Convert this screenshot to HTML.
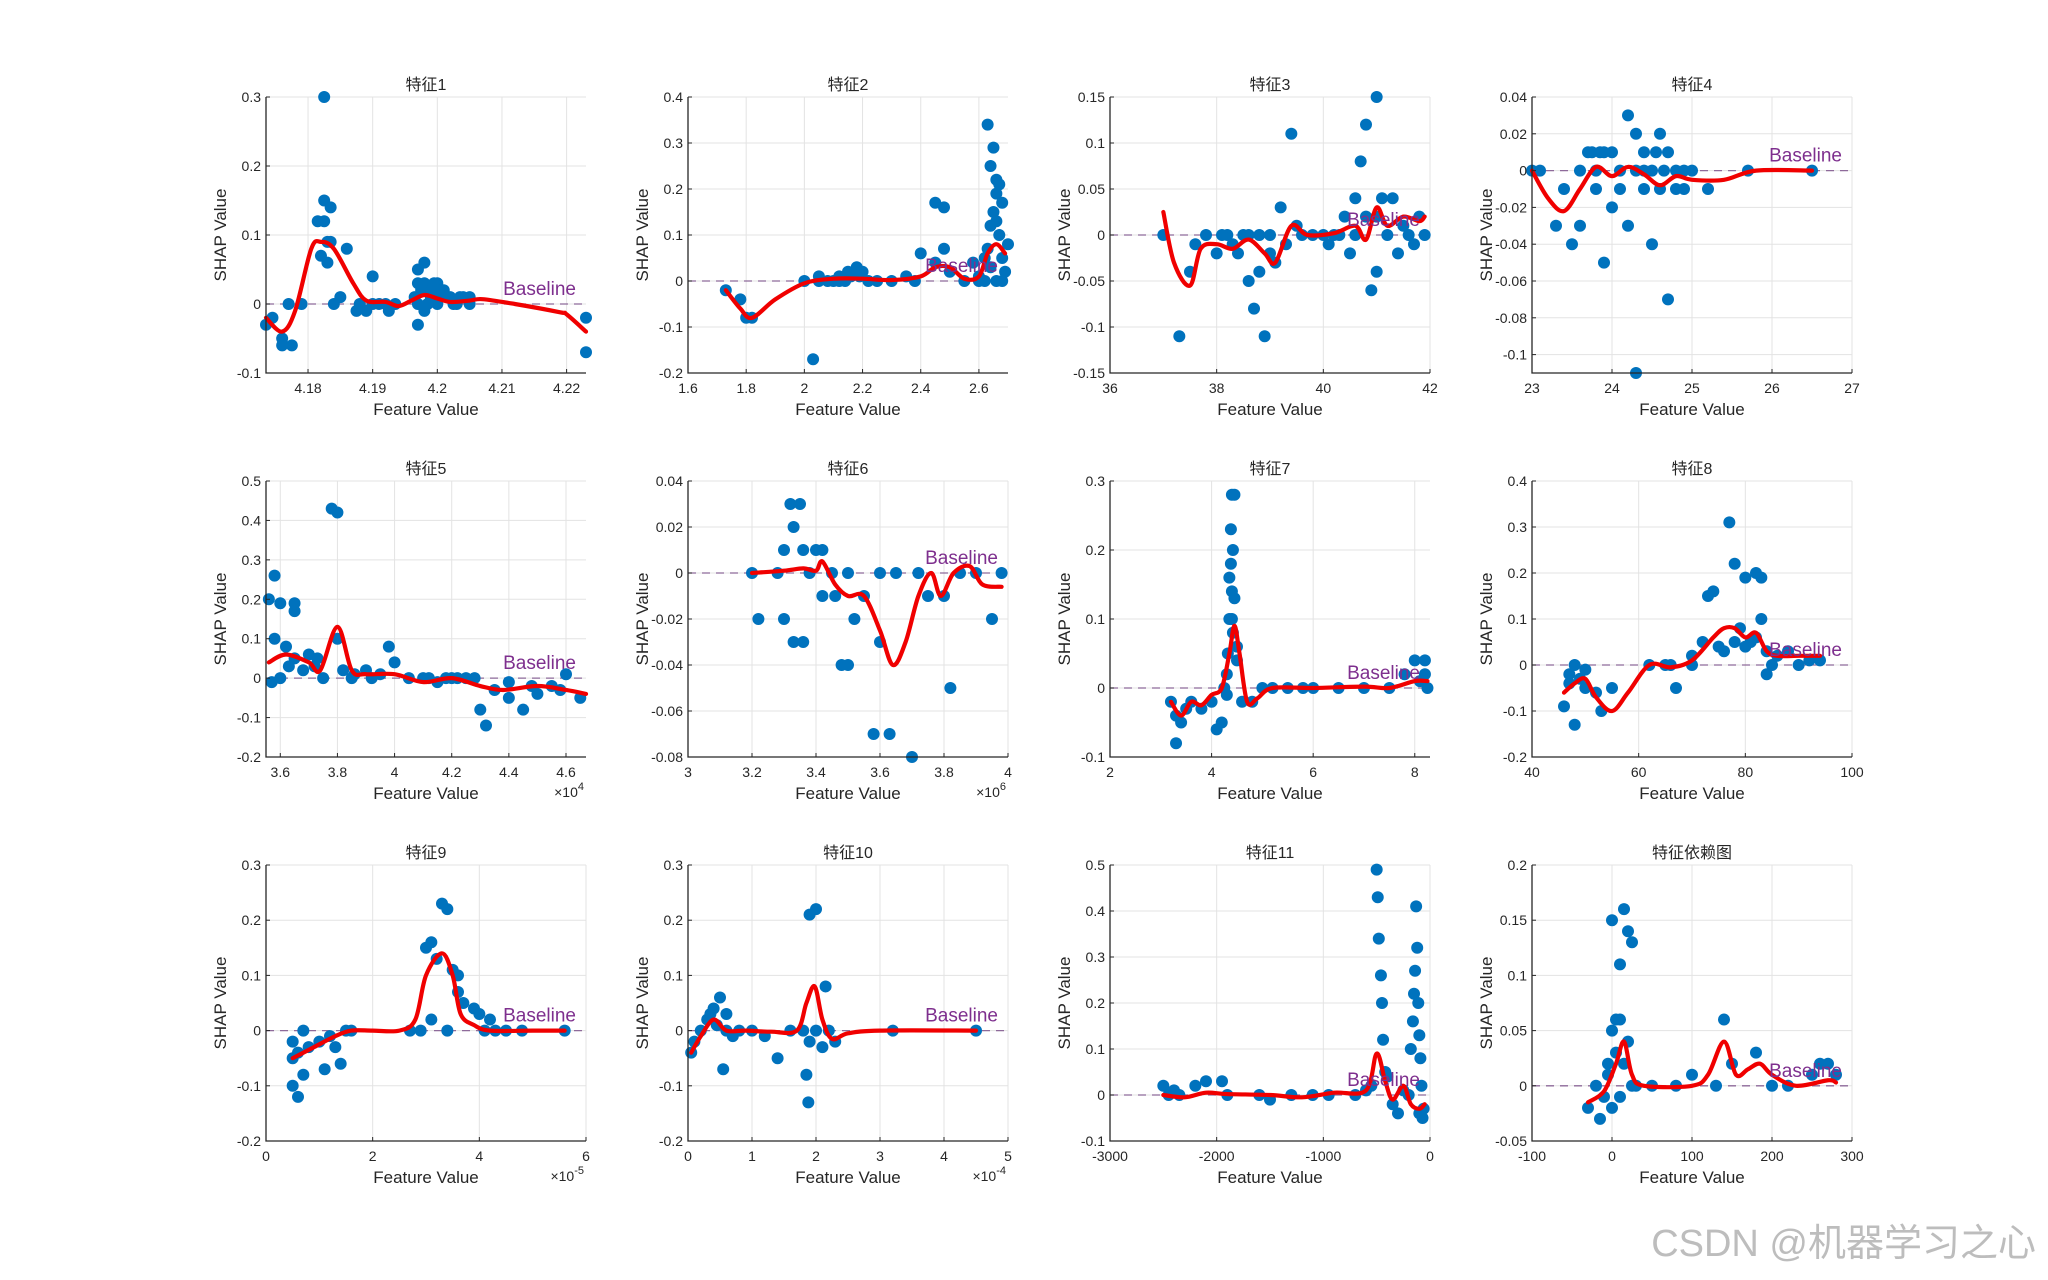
<!DOCTYPE html>
<html><head><meta charset="utf-8"><style>
html,body{margin:0;padding:0;background:#fff;}
svg{display:block;font-family:"Liberation Sans","Noto Sans CJK SC",sans-serif;}
</style></head><body>
<svg id="fig" width="2048" height="1280" viewBox="0 0 2048 1280" xmlns="http://www.w3.org/2000/svg">
<text x="2036" y="1256" text-anchor="end" font-size="38" fill="#bdbdbd">CSDN @机器学习之心</text>
</svg>
<script>
const titles=["特征1","特征2","特征3","特征4","特征5","特征6","特征7","特征8","特征9","特征10","特征11","特征依赖图"];
const xlims=[[4.1735,4.223],[1.6,2.7],[36,42],[23,27],[3.55,4.67],[3,4],[2,8.3],[40,100],[0,6],[0,5],[-3000,0],[-100,300]];
const ylims=[[-0.1,0.3],[-0.2,0.4],[-0.15,0.15],[-0.11,0.04],[-0.2,0.5],[-0.08,0.04],[-0.1,0.3],[-0.2,0.4],[-0.2,0.3],[-0.2,0.3],[-0.1,0.5],[-0.05,0.2]];
const xticks=[[4.18,4.19,4.2,4.21,4.22],[1.6,1.8,2,2.2,2.4,2.6],[36,38,40,42],[23,24,25,26,27],[3.6,3.8,4,4.2,4.4,4.6],[3,3.2,3.4,3.6,3.8,4],[2,4,6,8],[40,60,80,100],[0,2,4,6],[0,1,2,3,4,5],[-3000,-2000,-1000,0],[-100,0,100,200,300]];
const yticks=[[-0.1,0,0.1,0.2,0.3],[-0.2,-0.1,0,0.1,0.2,0.3,0.4],[-0.15,-0.1,-0.05,0,0.05,0.1,0.15],[-0.1,-0.08,-0.06,-0.04,-0.02,0,0.02,0.04],[-0.2,-0.1,0,0.1,0.2,0.3,0.4,0.5],[-0.08,-0.06,-0.04,-0.02,0,0.02,0.04],[-0.1,0,0.1,0.2,0.3],[-0.2,-0.1,0,0.1,0.2,0.3,0.4],[-0.2,-0.1,0,0.1,0.2,0.3],[-0.2,-0.1,0,0.1,0.2,0.3],[-0.1,0,0.1,0.2,0.3,0.4,0.5],[-0.05,0,0.05,0.1,0.15,0.2]];
const exponents=["","","","","4","6","","","-5","-4","",""];
const pts1=[[4.1735,-0.03],[4.1745,-0.02],[4.176,-0.05],[4.176,-0.06],[4.1775,-0.06],[4.177,0],[4.179,0],[4.1825,0.3],[4.1815,0.12],[4.1825,0.12],[4.1825,0.15],[4.1835,0.14],[4.183,0.09],[4.1835,0.09],[4.182,0.07],[4.183,0.06],[4.186,0.08],[4.184,0],[4.185,0.01],[4.19,0.04],[4.188,0],[4.189,-0.01],[4.19,0],[4.192,0],[4.1925,-0.01],[4.1935,0],[4.197,-0.03],[4.197,0.05],[4.198,0.06],[4.197,0.03],[4.198,0.03],[4.199,0.02],[4.2,0.03],[4.201,0.02],[4.2,0],[4.202,0.01],[4.203,0],[4.204,0.01],[4.205,0.01],[4.205,0],[4.197,0],[4.198,-0.01],[4.223,-0.02],[4.223,-0.07],[4.199,0.01],[4.2015,0.01],[4.1975,0.02],[4.1985,0.0],[4.1995,0.03],[4.2005,0.01],[4.2025,0.0],[4.2035,0.01],[4.1875,-0.01],[4.191,0],[4.1965,0.01],[4.2,0.02]];
const pts2=[[1.73,-0.02],[1.78,-0.04],[1.8,-0.08],[1.82,-0.08],[2.03,-0.17],[2.0,0],[2.05,0.01],[2.1,0],[2.12,0.01],[2.15,0.02],[2.18,0.03],[2.2,0.02],[2.12,0],[2.25,0],[2.3,0],[2.35,0.01],[2.38,0],[2.4,0.06],[2.45,0.17],[2.48,0.16],[2.45,0.04],[2.48,0.07],[2.5,0.02],[2.55,0],[2.58,0.04],[2.6,0.01],[2.62,0.05],[2.63,0.34],[2.65,0.29],[2.64,0.25],[2.66,0.22],[2.67,0.21],[2.65,0.15],[2.66,0.13],[2.67,0.1],[2.68,0.17],[2.63,0.07],[2.64,0.03],[2.66,0],[2.68,0],[2.69,0.02],[2.62,0],[2.68,0.05],[2.7,0.08],[2.08,0],[2.14,0],[2.16,0.01],[2.19,0.01],[2.22,0],[2.05,0],[2.6,0],[2.64,0.12],[2.66,0.19]];
const pts3=[[37,0],[37.3,-0.11],[37.5,-0.04],[37.6,-0.01],[37.8,0],[38,-0.02],[38.2,0],[38.4,-0.02],[38.6,-0.05],[38.7,-0.08],[38.8,0],[38.9,-0.11],[39,-0.02],[39.1,-0.03],[39.2,0.03],[39.4,0.11],[39.5,0.01],[39.8,0],[40,0],[40.2,0],[40.4,0.02],[40.5,-0.02],[40.6,0.04],[40.7,0.08],[40.8,0.12],[40.9,-0.06],[41,-0.04],[41,0.15],[41.1,0.04],[41.2,0],[41.3,0.04],[41.5,0.01],[41.7,-0.01],[41.8,0.02],[41.9,0],[38.3,-0.01],[38.5,0],[38.8,-0.04],[39.3,-0.01],[40.1,-0.01],[40.8,0.02],[41.4,-0.02],[38.1,0],[38.6,0],[39,0],[39.6,0],[40.3,0],[40.6,0],[41.0,0.02],[41.6,0]];
const pts4=[[23,0],[23.1,0],[23.3,-0.03],[23.4,-0.01],[23.5,-0.04],[23.6,-0.03],[23.7,0.01],[23.6,0],[23.8,-0.01],[23.9,-0.05],[24,0.01],[24,-0.02],[24.1,0],[24.2,-0.03],[24.3,-0.11],[24.2,0.03],[24.3,0.02],[24.4,0.01],[24.5,-0.04],[24.6,0.02],[24.7,-0.07],[24.5,0],[24.6,-0.01],[24.8,0],[25,0],[25.2,-0.01],[23.8,0],[24.9,-0.01],[26.5,0],[25.7,0],[24.4,-0.01],[23.9,0.01],[24.7,0.01],[23.75,0.01],[23.85,0.01],[24.3,0],[24.4,0],[24.65,0],[24.9,0],[24.1,-0.01],[24.55,0.01],[24.8,-0.01]];
const pts5=[[3.56,0.2],[3.58,0.26],[3.6,0.19],[3.65,0.19],[3.65,0.17],[3.58,0.1],[3.62,0.08],[3.6,0],[3.65,0.05],[3.7,0.06],[3.72,0.03],[3.75,0],[3.78,0.43],[3.8,0.42],[3.8,0.1],[3.82,0.02],[3.85,0],[3.9,0.02],[3.98,0.08],[4,0.04],[4.05,0],[4.1,0],[4.2,0],[4.3,-0.08],[4.32,-0.12],[4.35,-0.03],[4.4,-0.05],[4.45,-0.08],[4.5,-0.04],[4.55,-0.02],[4.6,0.01],[4.65,-0.05],[3.68,0.02],[3.73,0.05],[3.92,0],[4.15,-0.01],[4.25,0],[4.4,-0.01],[3.57,-0.01],[3.63,0.03],[3.86,0.01],[3.95,0.01],[4.12,0],[4.18,0],[4.22,0],[4.28,0],[4.48,-0.02],[4.58,-0.03]];
const pts6=[[3.2,0],[3.22,-0.02],[3.28,0],[3.3,-0.02],[3.32,0.03],[3.35,0.03],[3.33,0.02],[3.36,0.01],[3.3,0.01],[3.33,-0.03],[3.36,-0.03],[3.38,0],[3.4,0.01],[3.42,-0.01],[3.45,0],[3.48,-0.04],[3.5,-0.04],[3.52,-0.02],[3.55,-0.01],[3.58,-0.07],[3.63,-0.07],[3.6,-0.03],[3.7,-0.08],[3.65,0],[3.75,-0.01],[3.8,-0.01],[3.82,-0.05],[3.85,0],[3.9,0],[3.95,-0.02],[3.98,0],[3.72,0],[3.5,0],[3.6,0],[3.42,0.01],[3.46,-0.01]];
const pts7=[[3.2,-0.02],[3.3,-0.08],[3.4,-0.05],[3.5,-0.03],[3.6,-0.02],[3.8,-0.03],[4,-0.02],[4.1,-0.06],[4.2,-0.05],[4.25,0],[4.3,0.02],[4.35,0.1],[4.4,0.28],[4.45,0.28],[4.38,0.23],[4.42,0.2],[4.45,0.13],[4.4,0.1],[4.5,0.06],[4.5,0.04],[4.6,-0.02],[4.8,-0.02],[5,0],[5.5,0],[6,0],[7,0],[7.5,0],[8,0.04],[8.2,0.04],[8.1,0.01],[8.2,0.02],[7.8,0.02],[3.3,-0.04],[4.35,0.16],[4.42,0.08],[4.3,-0.01],[6.5,0],[8.25,0],[4.38,0.18],[4.4,0.14],[4.32,0.05],[5.2,0],[5.8,0]];
const pts8=[[46,-0.09],[47,-0.02],[48,-0.13],[48,0],[50,-0.01],[50,-0.05],[52,-0.06],[53,-0.1],[55,-0.05],[47,-0.04],[49,-0.03],[62,0],[65,0],[66,0],[67,-0.05],[70,0],[72,0.05],[73,0.15],[74,0.16],[75,0.04],[77,0.31],[78,0.22],[79,0.08],[80,0.19],[81,0.05],[82,0.2],[83,0.19],[83,0.1],[84,0.03],[85,0],[86,0.02],[88,0.03],[90,0],[92,0.01],[94,0.01],[76,0.03],[78,0.05],[80,0.04],[82,0.06],[84,-0.02],[70,0.02]];
const pts9=[[0.5,-0.02],[0.5,-0.05],[0.5,-0.1],[0.6,-0.12],[0.7,-0.08],[0.7,0],[0.8,-0.03],[1,-0.02],[1.1,-0.07],[1.3,-0.03],[1.4,-0.06],[1.5,0],[1.6,0],[2.7,0],[2.9,0],[3,0.15],[3.1,0.16],[3.2,0.13],[3.3,0.23],[3.4,0.22],[3.5,0.11],[3.6,0.1],[3.4,0],[3.6,0.07],[3.7,0.05],[3.9,0.04],[4,0.03],[4.2,0.02],[4.5,0],[4.8,0],[5.6,0],[3.1,0.02],[0.6,-0.04],[1.2,-0.01],[4.1,0],[4.3,0]];
const pts10=[[0.05,-0.04],[0.1,-0.02],[0.2,0],[0.3,0.02],[0.4,0.04],[0.5,0.06],[0.45,0.01],[0.55,-0.07],[0.6,0],[0.7,-0.01],[0.8,0],[1,0],[1.2,-0.01],[1.4,-0.05],[1.6,0],[1.8,0],[1.85,-0.08],[1.88,-0.13],[1.9,0.21],[2,0.22],[2.15,0.08],[2,0],[2.1,-0.03],[2.3,-0.02],[2.2,0],[3.2,0],[4.5,0],[0.35,0.03],[0.6,0.03],[1.9,-0.02]];
const pts11=[[-2500,0.02],[-2450,0],[-2350,0],[-2200,0.02],[-2100,0.03],[-1950,0.03],[-1900,0],[-1600,0],[-1500,-0.01],[-1300,0],[-1100,0],[-950,0],[-600,0.01],[-550,0.02],[-500,0.49],[-490,0.43],[-480,0.34],[-460,0.26],[-450,0.2],[-440,0.12],[-420,0.05],[-400,0.04],[-350,-0.02],[-300,-0.04],[-200,0],[-180,0.1],[-160,0.16],[-150,0.22],[-140,0.27],[-130,0.41],[-120,0.32],[-110,0.2],[-100,0.13],[-90,0.08],[-80,0.02],[-70,-0.05],[-60,-0.03],[-100,-0.04],[-250,0.01],[-2400,0.01],[-700,0]];
const pts12=[[-30,-0.02],[-20,0],[-15,-0.03],[-10,-0.01],[-5,0.02],[0,0.15],[5,0.06],[10,0.11],[15,0.16],[20,0.14],[25,0.13],[0,0.05],[10,0.06],[20,0.04],[5,0.03],[15,0.02],[25,0],[-5,0.01],[30,0],[50,0],[80,0],[100,0.01],[130,0],[140,0.06],[150,0.02],[180,0.03],[200,0],[220,0],[250,0.01],[260,0.02],[270,0.02],[280,0.01],[10,-0.01],[0,-0.02]];
const crv1=[[4.1735,-0.02],[4.176,-0.04],[4.178,-0.01],[4.1805,0.08],[4.182,0.09],[4.184,0.08],[4.187,0.03],[4.189,0.005],[4.192,0.003],[4.194,-0.003],[4.196,0.005],[4.198,0.013],[4.2,0.008],[4.202,0.003],[4.205,0.005],[4.207,0.007],[4.212,0],[4.219,-0.012],[4.22,-0.015],[4.223,-0.04]];
const crv2=[[1.73,-0.02],[1.78,-0.06],[1.82,-0.08],[1.9,-0.04],[2.0,-0.005],[2.1,0.005],[2.2,0.005],[2.3,0.002],[2.4,0.01],[2.45,0.03],[2.5,0.03],[2.55,0.005],[2.6,0.01],[2.63,0.06],[2.66,0.08],[2.69,0.06]];
const crv3=[[37,0.025],[37.2,-0.03],[37.5,-0.055],[37.7,-0.015],[38,-0.01],[38.3,-0.015],[38.6,-0.005],[38.9,-0.02],[39.1,-0.03],[39.4,0.01],[39.7,0],[40.2,0.002],[40.6,0.01],[40.8,-0.005],[41,0.03],[41.2,0.01],[41.5,0.02],[41.8,0.015],[41.9,0.02]];
const crv4=[[23,0],[23.2,-0.015],[23.4,-0.022],[23.6,-0.01],[23.8,0.002],[24,-0.003],[24.2,0.002],[24.4,-0.002],[24.6,-0.008],[24.8,-0.003],[25,-0.005],[25.4,-0.005],[25.8,0],[26.5,0]];
const crv5=[[3.56,0.04],[3.62,0.06],[3.7,0.04],[3.74,0.02],[3.8,0.13],[3.85,0.02],[3.9,0.01],[4,0.01],[4.1,-0.01],[4.2,0],[4.3,-0.02],[4.38,-0.03],[4.5,-0.02],[4.6,-0.03],[4.67,-0.04]];
const crv6=[[3.2,0],[3.3,0.001],[3.36,0.002],[3.4,0.001],[3.42,0.005],[3.46,-0.005],[3.5,-0.01],[3.55,-0.01],[3.6,-0.025],[3.64,-0.04],[3.68,-0.03],[3.72,-0.01],[3.76,0],[3.79,-0.01],[3.83,0],[3.88,0.003],[3.92,-0.005],[3.98,-0.006]];
const crv7=[[3.2,-0.02],[3.4,-0.04],[3.6,-0.02],[3.8,-0.025],[4.0,-0.01],[4.2,0.0],[4.35,0.05],[4.45,0.09],[4.55,0.05],[4.7,-0.02],[4.9,-0.015],[5.2,0],[6,0],[7,0.002],[7.5,0],[8,0.01],[8.25,0.01]];
const crv8=[[46,-0.06],[48,-0.04],[50,-0.03],[52,-0.07],[55,-0.1],[58,-0.06],[62,0],[66,-0.005],[70,0.01],[74,0.06],[76,0.08],[78,0.08],[80,0.06],[82,0.07],[84,0.03],[86,0.02],[90,0.02],[94,0.02]];
const crv9=[[0.5,-0.05],[0.9,-0.03],[1.3,-0.01],[1.6,0],[2,0],[2.5,0],[2.8,0.02],[3.0,0.1],[3.3,0.14],[3.5,0.1],[3.65,0.03],[3.9,0.01],[4.2,0],[5,0],[5.6,0]];
const crv10=[[0.05,-0.04],[0.2,-0.01],[0.4,0.02],[0.6,0],[0.9,0],[1.3,-0.002],[1.7,0],[1.85,0.05],[1.98,0.08],[2.1,0.02],[2.25,-0.015],[2.5,-0.005],[3,0],[4.5,0]];
const crv11=[[-2500,0],[-2300,-0.005],[-2100,0.005],[-1900,0.002],[-1500,0],[-1200,-0.005],[-900,0.005],[-600,0.01],[-500,0.09],[-420,0.03],[-350,-0.01],[-250,0.02],[-180,-0.02],[-100,-0.03],[-50,-0.02]];
const crv12=[[-30,-0.015],[-10,-0.005],[5,0.02],[15,0.04],[25,0.01],[40,0],[100,0],[120,0.01],[140,0.04],[155,0.01],[170,0.015],[185,0.02],[200,0.01],[230,0],[270,0.005],[280,0.003]];
const allPts=[pts1,pts2,pts3,pts4,pts5,pts6,pts7,pts8,pts9,pts10,pts11,pts12];
const allCrv=[crv1,crv2,crv3,crv4,crv5,crv6,crv7,crv8,crv9,crv10,crv11,crv12];

const NS="http://www.w3.org/2000/svg";
const svg=document.getElementById('fig');
const colL=[266,688,1110,1532], rowT=[97,481,865], W=320, H=276;
function mk(tag,attrs,parent){const e=document.createElementNS(NS,tag);for(const k in attrs)e.setAttribute(k,attrs[k]);parent.appendChild(e);return e;}
function fmt(v){return String(+v.toFixed(6));}
for(let i=0;i<12;i++){
  const L=colL[i%4],T=rowT[Math.floor(i/4)];
  const [x0,x1]=xlims[i],[y0,y1]=ylims[i];
  const sx=v=>L+(v-x0)/(x1-x0)*W, sy=v=>T+H-(v-y0)/(y1-y0)*H;
  const g=mk('g',{},svg);
  
  
  const grid=mk('g',{stroke:'#e3e3e3','stroke-width':1},g);
  
  
  xticks[i].forEach(t=>{const x=sx(t);mk('line',{x1:x,x2:x,y1:T,y2:T+H},grid);});
  yticks[i].forEach(t=>{const y=sy(t);mk('line',{x1:L,x2:L+W,y1:y,y2:y},grid);});
  const bl=mk('line',{x1:L,x2:L+W,y1:sy(0),y2:sy(0),stroke:'#8e6a9a','stroke-width':1.3,'stroke-dasharray':'8,6'},g);
  
  
  const dots=mk('g',{fill:'#0072BD'},g);
  
  
  allPts[i].forEach(p=>{const c=mk('circle',{cx:sx(p[0]),cy:sy(p[1]),r:6},dots);
    
    });
  const P=allCrv[i].map(p=>[sx(p[0]),sy(p[1])]);
  let d='M'+P[0][0]+','+P[0][1];
  for(let k=0;k<P.length-1;k++){
    const p0=P[Math.max(k-1,0)],p1=P[k],p2=P[k+1],p3=P[Math.min(k+2,P.length-1)];
    const c1=[p1[0]+(p2[0]-p0[0])/6,p1[1]+(p2[1]-p0[1])/6],c2=[p2[0]-(p3[0]-p1[0])/6,p2[1]-(p3[1]-p1[1])/6];
    d+=' C'+c1+' '+c2+' '+p2;
  }
  const cv=mk('path',{d:d,fill:'none',stroke:'#f00000','stroke-width':4.2,'stroke-linejoin':'round','stroke-linecap':'round'},g);
  
  
  const bt=mk('text',{x:L+W-10,y:sy(0)-9,'text-anchor':'end','font-size':19,fill:'#7E2F8E'},g);
  bt.textContent='Baseline';
  
  
  const ax=mk('path',{d:`M${L},${T}V${T+H}H${L+W}`,fill:'none',stroke:'#262626','stroke-width':1.3},g);
  
  
  xticks[i].forEach(t=>{const x=sx(t);
    mk('line',{x1:x,x2:x,y1:T+H,y2:T+H-4,stroke:'#262626'},g);
    const tx=mk('text',{x:x,y:T+H+20,'text-anchor':'middle','font-size':14,fill:'#262626'},g);
    tx.textContent=fmt(t);
    
    });
  yticks[i].forEach(t=>{const y=sy(t);
    mk('line',{x1:L,x2:L+4,y1:y,y2:y,stroke:'#262626'},g);
    const ty=mk('text',{x:L-5,y:y+5,'text-anchor':'end','font-size':14,fill:'#262626'},g);
    ty.textContent=fmt(t);
    
    });
  const tt=mk('text',{x:L+W/2,y:T-7,'text-anchor':'middle','font-size':16,fill:'#262626'},g);
  tt.textContent=titles[i];
  
  
  const xl=mk('text',{x:L+W/2,y:T+H+42,'text-anchor':'middle','font-size':17,fill:'#262626'},g);
  xl.textContent='Feature Value';
  
  
  const yl=mk('text',{x:0,y:0,'text-anchor':'middle','font-size':17,fill:'#262626',transform:`translate(${L-40},${T+H/2}) rotate(-90)`},g);
  yl.textContent='SHAP Value';
  
  
  if(exponents[i]){
    const ex=mk('text',{x:L+W-2,y:T+H+40,'text-anchor':'end','font-size':14,fill:'#262626'},g);
    
    
    ex.textContent='×10';
    const sp=mk('tspan',{dy:-7,'font-size':11},ex);sp.textContent=exponents[i];
  }
}
</script>
</body></html>
